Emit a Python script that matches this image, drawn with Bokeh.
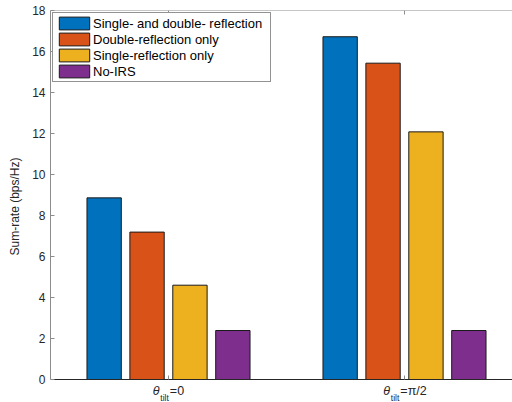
from bokeh.plotting import figure
from bokeh.models import (ColumnDataSource, Range1d, LinearAxis, FixedTicker,
                          Legend, LegendItem)
from bokeh.core.properties import value
from bokeh.embed import file_html
from bokeh.resources import INLINE

# ---- data ----
groups = [1, 2]
label_symbol = ["\u03b8", "\u03b8"]
label_sub = ["tilt", "tilt"]
label_rest = ["=0", "=\u03c0/2"]
series_names = ["Single- and double- reflection", "Double-reflection only",
                "Single-reflection only", "No-IRS"]
series_colors = ["#0072BD", "#D95319", "#EDB120", "#7E2F8E"]
both_refl = [8.86, 16.72]
double_only = [7.19, 15.43]
single_only = [4.60, 12.08]
no_irs = [2.39, 2.39]
y_ticks = [0, 2, 4, 6, 8, 10, 12, 14, 16, 18]

series_values = [both_refl, double_only, single_only, no_irs]

FONT = "Liberation Sans"
AX_GRAY = "#8c8c8c"
TXT = "#262626"

W, H = 512, 402
LEFT, TOP = 50, 10
ZERO_PX = 379          # pixel row of y=0
px_per_unit = (ZERO_PX - TOP) / 18.0
y_start = -(H - ZERO_PX) / px_per_unit
x_end = 0.5 + (W - LEFT) / 236.0

p = figure(width=W, height=H, output_backend="svg", toolbar_location=None,
           x_range=Range1d(0.5, x_end), y_range=Range1d(y_start, 18),
           min_border_left=LEFT, min_border_top=TOP, min_border_bottom=0,
           min_border_right=0, x_axis_location=None, y_axis_location=None)
p.outline_line_color = None
p.xgrid.visible = False
p.ygrid.visible = False
p.background_fill_color = "white"
p.border_fill_color = "white"

n = len(series_values)
gw = n / (n + 1.5)
slot = gw / n
renderers = []
for i, (vals, col) in enumerate(zip(series_values, series_colors)):
    off = -gw / 2 + slot * (i + 0.5)
    src = ColumnDataSource(dict(x=[g + off for g in groups], top=vals))
    r = p.vbar(x="x", top="top", bottom=0, width=slot * 0.8, source=src,
               fill_color=col, line_color="#1a1a1a", line_width=1)
    renderers.append(r)

yaxis = LinearAxis(ticker=FixedTicker(ticks=y_ticks), bounds=(0, 18))
yaxis.axis_line_color = AX_GRAY
yaxis.major_tick_line_color = AX_GRAY
yaxis.major_tick_in = 4
yaxis.major_tick_out = 0
yaxis.minor_tick_line_color = None
yaxis.major_label_text_font = FONT
yaxis.major_label_text_font_size = "12px"
yaxis.major_label_text_color = TXT
yaxis.major_label_standoff = 5
yaxis.axis_label = "Sum-rate (bps/Hz)"
yaxis.axis_label_text_font = FONT
yaxis.axis_label_text_font_size = "12px"
yaxis.axis_label_text_font_style = "normal"
yaxis.axis_label_text_color = TXT
yaxis.axis_label_standoff = 7
p.add_layout(yaxis, "left")

xaxis = LinearAxis(ticker=FixedTicker(ticks=groups), fixed_location=0)
xaxis.axis_line_color = "#262626"
xaxis.major_tick_line_color = AX_GRAY
xaxis.major_tick_in = 4
xaxis.major_tick_out = 0
xaxis.minor_tick_line_color = None
xaxis.major_label_text_font_size = "0px"
xaxis.major_label_text_color = None
p.add_layout(xaxis, "below")

topaxis = LinearAxis(ticker=FixedTicker(ticks=groups), fixed_location=18)
topaxis.axis_line_color = AX_GRAY
topaxis.major_tick_line_color = AX_GRAY
topaxis.major_tick_in = 4
topaxis.major_tick_out = 0
topaxis.minor_tick_line_color = None
topaxis.major_label_text_font_size = "0px"
topaxis.major_label_text_color = None
p.add_layout(topaxis, "above")

# x tick labels  theta_tilt = ...  (approximate glyph widths for centering)
cw = {"=": 7.3, "0": 7.0, "2": 7.0, "/": 3.5, "\u03c0": 7.5}
W_SYM, W_SUB = 7.5, 9.5
starts = []
for rest in label_rest:
    total = W_SYM + W_SUB + sum(cw.get(c, 7.0) for c in rest)
    starts.append(-total / 2)
for sym, sub, rest, g, s in zip(label_symbol, label_sub, label_rest, groups, starts):
    p.text(x=[g], y=[0], text=[sym], x_offset=s, y_offset=11,
           text_font=value(FONT), text_font_size="12.5px", text_font_style="italic",
           text_color=TXT, text_baseline="middle", text_align="left")
    p.text(x=[g], y=[0], text=[sub], x_offset=s + W_SYM, y_offset=18,
           text_font=value(FONT), text_font_size="8.5px",
           text_color=TXT, text_baseline="middle", text_align="left")
    p.text(x=[g], y=[0], text=[rest], x_offset=s + W_SYM + W_SUB, y_offset=11,
           text_font=value(FONT), text_font_size="12.5px",
           text_color=TXT, text_baseline="middle", text_align="left")

items = [LegendItem(label=nm, renderers=[r]) for nm, r in zip(series_names, renderers)]
legend = Legend(items=items, location="top_left")
legend.label_text_font = FONT
legend.label_text_font_size = "13px"
legend.label_text_color = "#000000"
legend.glyph_width = 38
legend.glyph_height = 16
legend.label_height = 16
legend.label_width = 175
legend.label_standoff = 0
legend.spacing = 0
legend.padding = 2
legend.margin = 2
legend.border_line_color = "#262626"
legend.border_line_width = 1
legend.background_fill_color = "white"
legend.background_fill_alpha = 1
p.add_layout(legend)

open("out.html", "w").write(file_html(p, INLINE))
